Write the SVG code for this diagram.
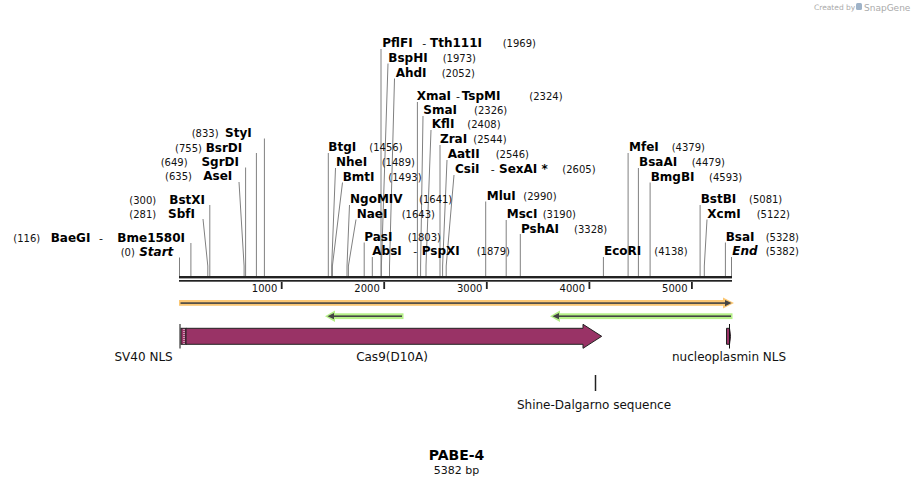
<svg xmlns="http://www.w3.org/2000/svg" width="912" height="486" viewBox="0 0 912 486">
<style>
.n{font-family:"DejaVu Sans",Verdana,sans-serif;font-weight:bold;font-size:12px;fill:#000}
.i{font-family:"DejaVu Sans",Verdana,sans-serif;font-weight:bold;font-style:italic;font-size:12px;fill:#000}
.p{font-family:"DejaVu Sans",Verdana,sans-serif;font-size:10px;fill:#111}
.d{font-family:"DejaVu Sans",Verdana,sans-serif;font-size:11px;fill:#111}
.t{font-family:"DejaVu Sans",Verdana,sans-serif;font-size:10px;fill:#111}
.f{font-family:"DejaVu Sans",Verdana,sans-serif;font-size:12px;fill:#111}
.ln{fill:none;stroke:#808080;stroke-width:1}
.strand{fill:#222}
.tick{fill:#222}
.mag{fill:#993366;stroke:#222;stroke-width:1}
</style>
<rect width="912" height="486" fill="#fff"/>

<g id="watermark">
<text x="814" y="10" style="font-family:'DejaVu Sans',sans-serif;font-size:7.5px;fill:#aaa">Created by</text>
<rect x="856" y="3" width="6" height="7" rx="1.5" fill="#9fb3c8"/>
<text x="864" y="10.5" style="font-family:'DejaVu Sans',sans-serif;font-size:9px;fill:#aaa">SnapGene</text>
</g>

<g id="connectors">
<polyline class="ln" points="264.4,138.5 264.4,276"/>
<polyline class="ln" points="256.4,153 256.4,276"/>
<polyline class="ln" points="245.6,167.5 245.6,276"/>
<polyline class="ln" points="239,182 244.1,266 244.1,276"/>
<polyline class="ln" points="209.8,205 209.8,276"/>
<polyline class="ln" points="203,219 207.8,266 207.8,276"/>
<polyline class="ln" points="190.9,243 190.9,276"/>
<polyline class="ln" points="179.5,257.5 179.5,276"/>
<polyline class="ln" points="381,49 381,276"/>
<polyline class="ln" points="388,63.5 381.4,266 381.4,276"/>
<polyline class="ln" points="394.5,78.5 389.5,266 389.5,276"/>
<polyline class="ln" points="417.4,102 417.4,276"/>
<polyline class="ln" points="423,116 420.6,266 420.6,276"/>
<polyline class="ln" points="431,130 426,266 426,276"/>
<polyline class="ln" points="440,145 440,276"/>
<polyline class="ln" points="447,160 442.6,266 442.6,276"/>
<polyline class="ln" points="454,175 446.2,266 446.2,276"/>
<polyline class="ln" points="328.3,153 328.3,276"/>
<polyline class="ln" points="335.5,168 331.7,266 331.7,276"/>
<polyline class="ln" points="342.5,182.5 332.4,266 332.4,276"/>
<polyline class="ln" points="349.5,205 347,266 347,276"/>
<polyline class="ln" points="356,219.5 348.4,266 348.4,276"/>
<polyline class="ln" points="364.2,242.5 364.2,276"/>
<polyline class="ln" points="372.3,257 372.3,276"/>
<polyline class="ln" points="485.7,201.5 485.7,276"/>
<polyline class="ln" points="506.2,220 506.2,276"/>
<polyline class="ln" points="520.3,234 520.3,276"/>
<polyline class="ln" points="603.4,257 603.4,276"/>
<polyline class="ln" points="628.1,153 628.1,276"/>
<polyline class="ln" points="638.4,168 638.4,276"/>
<polyline class="ln" points="650.1,182.5 650.1,276"/>
<polyline class="ln" points="700.1,205 700.1,276"/>
<polyline class="ln" points="707,219.5 704.3,266 704.3,276"/>
<polyline class="ln" points="725.4,242.5 725.4,276"/>
<polyline class="ln" points="731.5,257 731.5,276"/>
</g>

<g id="site-StyI"><text class="p" x="191.7" y="137">(833)</text><text class="n" x="251.7" y="137" text-anchor="end">StyI</text></g>
<g id="site-BsrDI"><text class="p" x="175" y="151.5">(755)</text><text class="n" x="242.3" y="151.5" text-anchor="end">BsrDI</text></g>
<g id="site-SgrDI"><text class="p" x="160.7" y="166">(649)</text><text class="n" x="239" y="166" text-anchor="end">SgrDI</text></g>
<g id="site-AseI"><text class="p" x="165" y="180">(635)</text><text class="n" x="232.3" y="180" text-anchor="end">AseI</text></g>
<g id="site-BstXI"><text class="p" x="129.3" y="203.5">(300)</text><text class="n" x="205" y="203.5" text-anchor="end">BstXI</text></g>
<g id="site-SbfI"><text class="p" x="129.3" y="217.5">(281)</text><text class="n" x="195" y="217.5" text-anchor="end">SbfI</text></g>
<g id="site-BaeGI"><text class="p" x="13.3" y="241.5">(116)</text><text class="n" x="50.7" y="241.5">BaeGI</text><text class="d" x="99" y="241.5">-</text><text class="n" x="185" y="241.5" text-anchor="end">Bme1580I</text></g>
<g id="site-Start"><text class="p" x="120.7" y="256">(0)</text><text class="i" x="173.3" y="256" text-anchor="end">Start</text></g>

<g id="site-PflFI"><text class="n" x="382.3" y="47.3">PflFI</text><text class="d" x="422.3" y="47.3">-</text><text class="n" x="430" y="47.3">Tth111I</text><text class="p" x="502.7" y="47.3">(1969)</text></g>
<g id="site-BspHI"><text class="n" x="388.3" y="61.7">BspHI</text><text class="p" x="442.7" y="61.7">(1973)</text></g>
<g id="site-AhdI"><text class="n" x="395.7" y="76.7">AhdI</text><text class="p" x="441.7" y="76.7">(2052)</text></g>
<g id="site-XmaI"><text class="n" x="416.7" y="100">XmaI</text><text class="d" x="456" y="100">-</text><text class="n" x="461.7" y="100">TspMI</text><text class="p" x="529.3" y="100">(2324)</text></g>
<g id="site-SmaI"><text class="n" x="423.3" y="114.3">SmaI</text><text class="p" x="474" y="114.3">(2326)</text></g>
<g id="site-KflI"><text class="n" x="431.7" y="128.3">KflI</text><text class="p" x="467.3" y="128.3">(2408)</text></g>
<g id="site-ZraI"><text class="n" x="440" y="143">ZraI</text><text class="p" x="473.3" y="143">(2544)</text></g>
<g id="site-AatII"><text class="n" x="447.7" y="158">AatII</text><text class="p" x="495.7" y="158">(2546)</text></g>
<g id="site-CsiI"><text class="n" x="455" y="173">CsiI</text><text class="d" x="490.7" y="173">-</text><text class="n" x="499" y="173">SexAI *</text><text class="p" x="562.3" y="173">(2605)</text></g>
<g id="site-BtgI"><text class="n" x="328.3" y="151">BtgI</text><text class="p" x="369.3" y="151">(1456)</text></g>
<g id="site-NheI"><text class="n" x="336" y="166">NheI</text><text class="p" x="381.7" y="166">(1489)</text></g>
<g id="site-BmtI"><text class="n" x="342.7" y="180.7">BmtI</text><text class="p" x="388.3" y="180.7">(1493)</text></g>
<g id="site-NgoMIV"><text class="n" x="350" y="203.3">NgoMIV</text><text class="p" x="419" y="203.3">(1641)</text></g>
<g id="site-NaeI"><text class="n" x="356.7" y="217.5">NaeI</text><text class="p" x="401.7" y="217.5">(1643)</text></g>
<g id="site-PasI"><text class="n" x="364.3" y="240.5">PasI</text><text class="p" x="407.7" y="240.5">(1803)</text></g>
<g id="site-AbsI"><text class="n" x="372.3" y="255.3">AbsI</text><text class="d" x="413.3" y="255.3">-</text><text class="n" x="421.7" y="255.3">PspXI</text><text class="p" x="476.7" y="255.3">(1879)</text></g>
<g id="site-MluI"><text class="n" x="486.7" y="200">MluI</text><text class="p" x="523.3" y="200">(2990)</text></g>
<g id="site-MscI"><text class="n" x="506.7" y="218">MscI</text><text class="p" x="542.7" y="218">(3190)</text></g>
<g id="site-PshAI"><text class="n" x="521" y="232.5">PshAI</text><text class="p" x="574" y="232.5">(3328)</text></g>
<g id="site-EcoRI"><text class="n" x="604" y="255">EcoRI</text><text class="p" x="654.3" y="255">(4138)</text></g>
<g id="site-MfeI"><text class="n" x="629" y="151">MfeI</text><text class="p" x="671.7" y="151">(4379)</text></g>
<g id="site-BsaAI"><text class="n" x="639" y="166">BsaAI</text><text class="p" x="691.7" y="166">(4479)</text></g>
<g id="site-BmgBI"><text class="n" x="650.7" y="180.7">BmgBI</text><text class="p" x="709" y="180.7">(4593)</text></g>
<g id="site-BstBI"><text class="n" x="700.7" y="203">BstBI</text><text class="p" x="749" y="203">(5081)</text></g>
<g id="site-XcmI"><text class="n" x="707.3" y="217.7">XcmI</text><text class="p" x="756.7" y="217.7">(5122)</text></g>
<g id="site-BsaI"><text class="n" x="725.7" y="240.7">BsaI</text><text class="p" x="765.7" y="240.7">(5328)</text></g>
<g id="site-End"><text class="i" x="732.3" y="255">End</text><text class="p" x="765.7" y="255">(5382)</text></g>

<g id="ruler">
<rect class="strand" x="179" y="276" width="553" height="2.4"/>
<rect class="strand" x="179" y="280" width="553" height="1.7"/>
<rect class="tick" x="280.8" y="282" width="1.8" height="7"/>
<rect class="tick" x="383.3" y="282" width="1.8" height="7"/>
<rect class="tick" x="485.9" y="282" width="1.8" height="7"/>
<rect class="tick" x="588.5" y="282" width="1.8" height="7"/>
<rect class="tick" x="691" y="282" width="1.8" height="7"/>
<text class="t" x="277.3" y="291.5" text-anchor="end">1000</text>
<text class="t" x="379.8" y="291.5" text-anchor="end">2000</text>
<text class="t" x="482.4" y="291.5" text-anchor="end">3000</text>
<text class="t" x="585" y="291.5" text-anchor="end">4000</text>
<text class="t" x="687.5" y="291.5" text-anchor="end">5000</text>
</g>

<g id="primer-orange">
<rect x="179" y="300" width="548" height="5.8" fill="#fbc774"/>
<polygon points="723,297.5 734,303 723,308.5" fill="#fbc774"/>
<rect x="180.5" y="302.3" width="545" height="1.6" fill="#444"/>
<polygon points="725,300 731.5,303.1 725,306.2" fill="#444"/>
</g>

<g id="primer-green-1">
<rect x="330" y="313.3" width="73.5" height="5.8" fill="#b5ef88"/>
<polygon points="335,310.5 325,316.2 335,322" fill="#b5ef88"/>
<rect x="332" y="315.4" width="70" height="1.6" fill="#444"/>
<polygon points="334,313.1 327.5,316.2 334,319.3" fill="#444"/>
</g>
<g id="primer-green-2">
<rect x="555" y="313.3" width="177.5" height="5.8" fill="#b5ef88"/>
<polygon points="560,310.5 550,316.2 560,322" fill="#b5ef88"/>
<rect x="557" y="315.4" width="174" height="1.6" fill="#444"/>
<polygon points="559,313.1 552.5,316.2 559,319.3" fill="#444"/>
</g>

<g id="feature-SV40NLS">
<rect class="mag" x="181" y="328.3" width="5" height="16"/>
<line x1="184" y1="329" x2="184" y2="344" stroke="#fff" stroke-width="1" stroke-dasharray="1,1"/>
<line x1="180" y1="324" x2="180" y2="348.5" stroke="#111" stroke-width="1"/>
<text class="f" x="114.5" y="361">SV40 NLS</text>
</g>

<g id="feature-Cas9">
<path class="mag" d="M186,328.3 H583 V324.3 L601.7,336.3 L583,348.3 V344.3 H186 Z"/>
<text class="f" x="392" y="361" text-anchor="middle">Cas9(D10A)</text>
</g>

<g id="feature-nucleoplasminNLS">
<path class="mag" d="M726.5,328.3 H729.5 Q731.5,336.3 729.5,344.3 H726.5 Z"/>
<line x1="729.5" y1="324" x2="729.5" y2="348.5" stroke="#111" stroke-width="1"/>
<text class="f" x="672" y="361">nucleoplasmin NLS</text>
</g>

<g id="feature-ShineDalgarno">
<line x1="595.5" y1="375" x2="595.5" y2="391" stroke="#222" stroke-width="1.5"/>
<text class="f" x="594" y="409" text-anchor="middle">Shine-Dalgarno sequence</text>
</g>

<g id="title">
<text x="456.5" y="460" text-anchor="middle" style="font-family:'DejaVu Sans',Verdana,sans-serif;font-weight:bold;font-size:14px;fill:#000">PABE-4</text>
<text x="456.5" y="474" text-anchor="middle" style="font-family:'DejaVu Sans',Verdana,sans-serif;font-size:11px;fill:#111">5382 bp</text>
</g>
</svg>
